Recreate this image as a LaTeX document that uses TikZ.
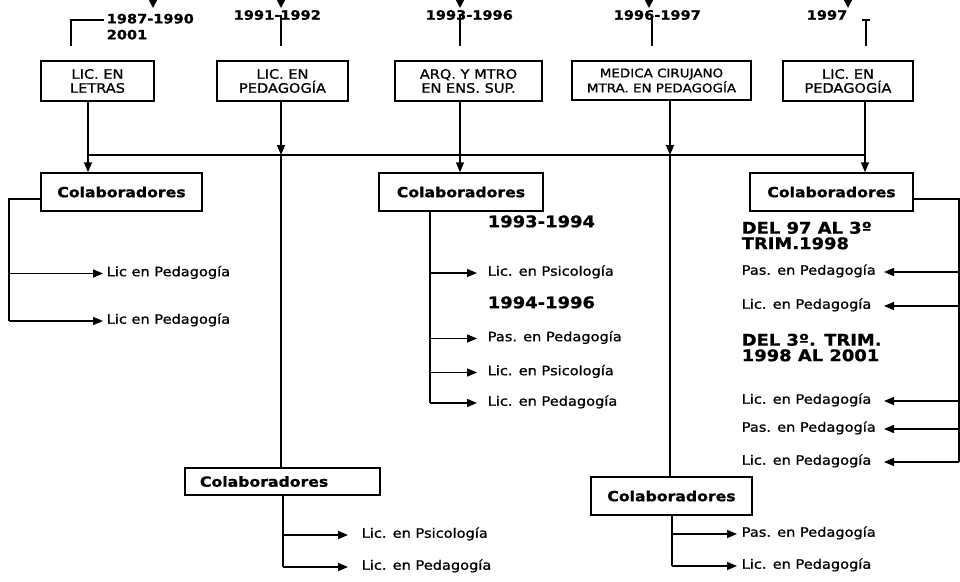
\documentclass[tikz,border=0pt]{standalone}
\usepackage{fontspec}
\setmainfont{DejaVu Sans}[FakeStretch = 1.12,
                          UprightFeatures = {FakeBold = 1},
                          BoldFeatures = {FakeBold = 1}]
\usetikzlibrary{arrows.meta}

\tikzset{caja/.style = {shape = rectangle,
                        draw,
                        minimum height = 40pt,
                        align = center,
                        inner sep = 2pt,
                        font = \fontsize{13}{14}\selectfont},
         colab/.style = {shape = rectangle,
                         draw,
                         minimum height = 38pt,
                         font = \fontsize{14}{16}\bfseries},
         anio/.style = {inner sep = 0pt,
                        font = \fontsize{13}{16}\bfseries},
         etiq/.style = {anchor = mid west,
                        inner sep = 0pt,
                        font = \fontsize{13}{15}\selectfont},
         titulo/.style = {anchor = north west,
                          align = left,
                          inner sep = 0pt,
                          font = \fontsize{16}{15.5}\bfseries},
         bajada/.style = {-{Triangle[length = 9pt, width = 9pt]}},
         flecha/.style = {-{Triangle[length = 10pt, width = 8pt]}}}

\begin{document}
\begin{tikzpicture}[x = 1pt, y = -1pt, line width = 1.5pt]
	\useasboundingbox (0,0) rectangle (960,581);

	\foreach \x in {153,281,460,649,848}
		\draw[bajada] (\x,-8) -- (\x,8);

	\node[anio, anchor = north west, align = left] (a1) at (106,13) {1987-1990\\2001};
	\node[anio, anchor = mid west] (a2) at (233,17) {1991-1992};
	\node[anio, anchor = mid west] (a3) at (425,17) {1993-1996};
	\node[anio, anchor = mid west] (a4) at (613,17) {1996-1997};
	\node[anio, anchor = mid west] (a5) at (806,17) {1997};

	\coordinate (t1) at (71,46);
	\coordinate (t2) at (281,46);
	\coordinate (t3) at (460,46);
	\coordinate (t4) at (652,46);
	\coordinate (t5) at (866,46);
	\draw (t1) |- ([xshift = -2pt]a1.north west |- 0,20);
	\draw (t2) -- ++(0,-31);
	\draw (t3) -- ++(0,-31);
	\draw (t4) -- ++(0,-31);
	\draw (t5) -- ++(0,-26) ++(-4,0) -- ++(8,0);

	\node[caja, minimum width = 113pt] (b1) at (97.5,81) {LIC. EN\\LETRAS};
	\node[caja, minimum width = 131pt] (b2) at (282.5,81) {LIC. EN\\PEDAGOGÍA};
	\node[caja, minimum width = 147pt] (b3) at (468.5,81) {ARQ. Y MTRO\\EN ENS. SUP.};
	\node[caja, minimum width = 179pt, minimum height = 39pt,
	      font = \fontsize{12}{15}\selectfont] (b4) at (661.5,80.5) {MEDICA CIRUJANO\\MTRA. EN PEDAGOGÍA};
	\node[caja, minimum width = 130pt] (b5) at (848,81) {LIC. EN\\PEDAGOGÍA};

	\node[colab, minimum width = 161pt] (c1) at (121.5,192) {Colaboradores};
	\node[colab, minimum width = 164pt] (c3) at (461,192) {Colaboradores};
	\node[colab, minimum width = 163pt] (c5) at (831.5,192) {Colaboradores};
	\node[colab, minimum height = 27pt, text width = 165pt, inner xsep = 15pt,
	      align = left] (c2) at (282.5,481.5) {Colaboradores};
	\node[colab, minimum width = 161pt] (c4) at (671.5,496) {Colaboradores};

	\coordinate (j1) at (88,155);
	\coordinate (j2) at (281,155);
	\coordinate (j3) at (460,155);
	\coordinate (j4) at (670,155);
	\coordinate (j5) at (865,155);
	\draw (b1.south -| j1) -- (j1) -- (j5);
	\draw[flecha] (j1) -- (j1 |- c1.north);
	\draw[flecha] (b2.south -| j2) -- (j2);
	\draw (j2) -- (j2 |- c2.north);
	\draw (b3.south -| j3) -- (j3);
	\draw[flecha] (j3) -- (j3 |- c3.north);
	\draw[flecha] (b4.south -| j4) -- (j4);
	\draw (j4) -- (j4 |- c4.north);
	\draw (b5.south -| j5) -- (j5);
	\draw[flecha] (j5) -- (j5 |- c5.north);

	% izquierda
	\node[etiq] (l1) at (106,273.5) {Lic en Pedagogía};
	\node[etiq] (l2) at (106,321) {Lic en Pedagogía};
	\coordinate (ls) at (9,199);
	\coordinate (lx) at (103,0);
	\draw (c1.west |- ls) -- (ls) -- (ls |- l2.mid west);
	\draw[flecha] (ls |- l1.mid west) -- (lx |- l1.mid west);
	\draw[flecha] (ls |- l2.mid west) -- (lx |- l2.mid west);

	% centro
	\node[titulo, anchor = mid west] (m0) at (487,224.5) {1993-1994};
	\node[etiq] (m1) at (487,273) {Lic. en Psicología};
	\node[titulo, anchor = mid west] (m5) at (487,305.5) {1994-1996};
	\node[etiq] (m2) at (487,338.5) {Pas. en Pedagogía};
	\node[etiq] (m3) at (487,372.5) {Lic. en Psicología};
	\node[etiq] (m4) at (487,403) {Lic. en Pedagogía};
	\coordinate (ms) at (430,0);
	\coordinate (mx) at (477,0);
	\draw (c3.south -| ms) -- (ms |- m4.mid west);
	\foreach \m in {m1,m2,m3,m4}
		\draw[flecha] (ms |- \m.mid west) -- (mx |- \m.mid west);

	% derecha
	\node[titulo] (r0) at (741,221) {DEL 97 AL 3º\\TRIM.1998};
	\node[etiq] (r1) at (741,272) {Pas. en Pedagogía};
	\node[etiq] (r2) at (741,306) {Lic. en Pedagogía};
	\node[titulo] (r6) at (741,333) {DEL 3º. TRIM.\\1998 AL 2001};
	\node[etiq] (r3) at (741,401) {Lic. en Pedagogía};
	\node[etiq] (r4) at (741,429) {Pas. en Pedagogía};
	\node[etiq] (r5) at (741,462) {Lic. en Pedagogía};
	\coordinate (rs) at (959,199);
	\coordinate (rx) at (884,0);
	\draw (c5.east |- rs) -- (rs) -- (rs |- r5.mid west);
	\foreach \r in {r1,r2,r3,r4,r5}
		\draw[flecha] (rs |- \r.mid west) -- (rx |- \r.mid west);

	% abajo
	\node[etiq] (p1) at (361,535) {Lic. en Psicología};
	\node[etiq] (p2) at (361,567) {Lic. en Pedagogía};
	\coordinate (ps) at (283,0);
	\coordinate (px) at (348,0);
	\draw (c2.south -| ps) -- (ps |- p2.mid west);
	\draw[flecha] (ps |- p1.mid west) -- (px |- p1.mid west);
	\draw[flecha] (ps |- p2.mid west) -- (px |- p2.mid west);

	\node[etiq] (q1) at (741,534) {Pas. en Pedagogía};
	\node[etiq] (q2) at (741,566) {Lic. en Pedagogía};
	\coordinate (qs) at (672,0);
	\coordinate (qx) at (737,0);
	\draw (c4.south -| qs) -- (qs |- q2.mid west);
	\draw[flecha] (qs |- q1.mid west) -- (qx |- q1.mid west);
	\draw[flecha] (qs |- q2.mid west) -- (qx |- q2.mid west);
\end{tikzpicture}
\end{document}
